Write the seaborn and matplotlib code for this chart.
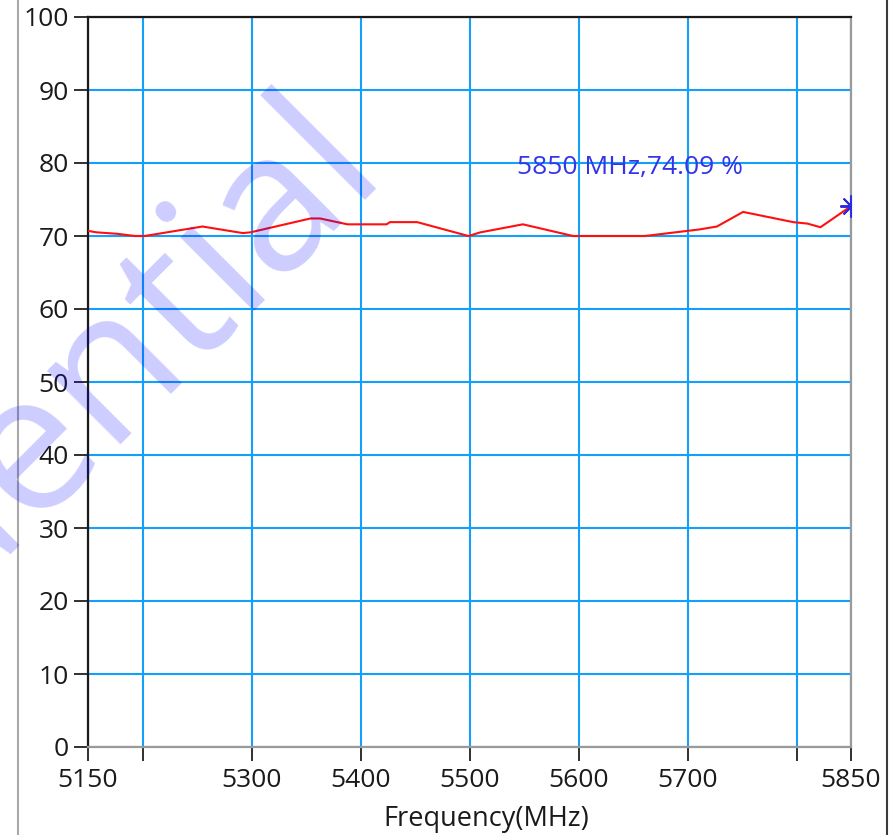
import matplotlib
matplotlib.use("Agg")
import matplotlib.pyplot as plt
import seaborn as sns
import pandas as pd
from matplotlib.lines import Line2D

# Efficiency trace across the 5 GHz band
freq_mhz = [5150, 5158, 5177, 5193, 5202, 5255, 5292, 5299, 5354, 5363, 5388,
            5424, 5427, 5452, 5499, 5510, 5549, 5595, 5661, 5711, 5727, 5751,
            5797, 5810, 5822, 5850]
efficiency = [70.7, 70.5, 70.3, 70.0, 70.0, 71.3, 70.4, 70.5, 72.4, 72.4, 71.6,
              71.6, 71.9, 71.9, 70.0, 70.5, 71.6, 70.0, 70.0, 70.9, 71.3, 73.3,
              71.9, 71.7, 71.2, 74.09]

x_ticks = [5150, 5200, 5300, 5400, 5500, 5600, 5700, 5800, 5850]
x_tick_labels = ["5150", "", "5300", "5400", "5500", "5600", "5700", "", "5850"]
y_ticks = [0, 10, 20, 30, 40, 50, 60, 70, 80, 90, 100]

marker_freq = 5850
marker_value = 74.09

df = pd.DataFrame({"Frequency(MHz)": freq_mhz, "Efficiency(%)": efficiency})

sns.set_theme(style="white")
plt.rcParams["font.family"] = ["Open Sans", "DejaVu Sans"]

fig = plt.figure(figsize=(8.91, 8.35), dpi=100)
ax = fig.add_axes([88 / 891, 1 - 747 / 835, (851 - 88) / 891, (747 - 17) / 835])

grid_color = "#12a0fa"
sns.lineplot(data=df, x="Frequency(MHz)", y="Efficiency(%)", ax=ax,
             color="#ff1010", linewidth=1.5, zorder=3)

ax.set_xlim(5150, 5850)
ax.set_ylim(0, 100)
ax.set_xticks(x_ticks)
ax.set_xticklabels(x_tick_labels)
ax.set_yticks(y_ticks)
ax.grid(True, color=grid_color, linewidth=1.5, zorder=1)
ax.set_axisbelow(True)

ax.tick_params(axis="both", which="major", bottom=True, left=True,
               top=False, right=False, direction="out", length=10, width=1.4,
               color="#303030", labelsize=19, labelcolor="#1a1a1a")
ax.tick_params(axis="x", pad=5)
ax.tick_params(axis="y", pad=4)
ax.set_xlabel("Frequency(MHz)", fontsize=19.5, color="#1a1a1a")
ax.xaxis.set_label_coords(0.5216, -0.080)
ax.set_ylabel("")

for side in ("left", "top"):
    ax.spines[side].set_color("#1a1a1a")
    ax.spines[side].set_linewidth(1.6)
for side in ("right", "bottom"):
    ax.spines[side].set_color("#9a9a9a")
    ax.spines[side].set_linewidth(1.6)

# Marker at the last sample and its readout
ax.plot([marker_freq], [marker_value], marker=(8, 2, 0), markersize=16,
        markeredgewidth=1.4, color="#2a2ae0", linestyle="none", zorder=4,
        clip_on=True)
ax.annotate(f"{marker_freq} MHz,{marker_value:.2f} %",
            xy=(marker_freq, marker_value), xytext=(-334, 39),
            textcoords="offset pixels", ha="left", va="center",
            fontsize=19, color="#3535e8", zorder=5)

# Panel border lines
fig.add_artist(Line2D([18 / 891, 18 / 891], [0, 1], color="#a8a8a8",
                      linewidth=1.5, transform=fig.transFigure))
fig.add_artist(Line2D([887 / 891, 887 / 891], [0, 1], color="#3a3a3a",
                      linewidth=1.5, transform=fig.transFigure))

# Watermark
fig.text(385 / 891, 1 - 168 / 835, "Confidential", fontsize=140,
         color="#0000ff", alpha=0.2, rotation=45, rotation_mode="anchor",
         ha="right", va="baseline", zorder=10)

fig.savefig("out.png", dpi=100)
